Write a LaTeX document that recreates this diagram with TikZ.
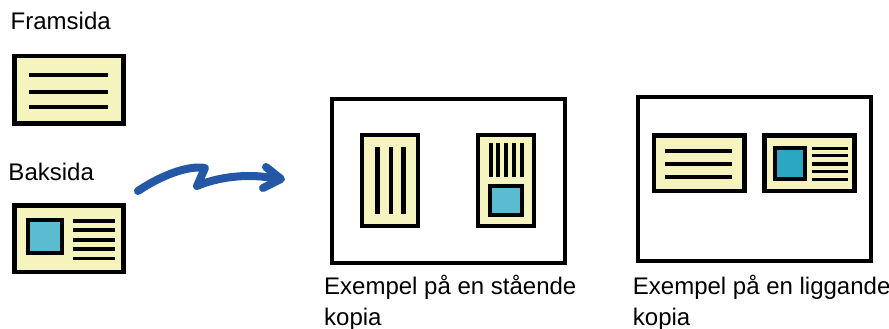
\documentclass[tikz,border=0pt]{standalone}
\usepackage{fontspec}
\setmainfont{Liberation Sans}
\definecolor{cardfill}{HTML}{F5F4BE}
\definecolor{photoA}{HTML}{5BBBD0}
\definecolor{photoB}{HTML}{2AA6C2}
\definecolor{arrowblue}{HTML}{2457A6}
\tikzset{
  frame/.style={draw=black,line width=4.3pt,fill=white},
  card/.style={draw=black,line width=4.3pt,fill=cardfill},
  txtline/.style={draw=black,line width=4pt},
  thinline/.style={draw=black,line width=3.5pt},
  photo/.style={draw=black,line width=4pt},
  lbl/.style={anchor=base west,inner sep=0pt,font=\fontsize{24}{30.7}\selectfont},
  squiggle/.style={draw=arrowblue,line width=8pt,line cap=round,line join=round}
}
\begin{document}
\begin{tikzpicture}[x=1pt,y=-1pt]
\useasboundingbox (0,0) rectangle (889,329);
% labels
\node[lbl] (front) at (10.5,30) {Framsida};
\node[lbl] (back) at (8.3,180.7) {Baksida};
\node[lbl] (portA) at (324,294.3) {Exempel på en stående};
\node[lbl] (portB) at (324,325) {kopia};
\node[lbl] (landA) at (632.7,294.3) {Exempel på en liggande};
\node[lbl] (landB) at (632.7,325) {kopia};
% front card
\draw[card] (14.5,56.2) rectangle (123.5,123.5);
\foreach \y in {75,91.7,107.3} \draw[txtline] (29,\y) -- (108,\y);
% back card
\draw[card] (14.5,205.5) rectangle (123.5,272.1);
\draw[photo,fill=photoA] (28,220.3) rectangle (62.3,253);
\foreach \y in {221,230,240,249,258.3} \draw[thinline] (72.7,\y) -- (115,\y);
% squiggle arrow
\draw[squiggle] (138,191) .. controls (160,176) and (188,165) .. (205,168) -- (197,186) .. controls (215,178) and (245,173) .. (272,178);
\draw[squiggle] (266,167) -- (281,179) -- (263,188);
% portrait frame
\draw[frame] (332,98.7) rectangle (564.7,263);
\draw[card] (362.2,134.9) rectangle (417.8,226.1);
\foreach \x in {377.3,391,403.3} \draw[line width=4.5pt] (\x,147.3) -- (\x,214);
\draw[card] (478.2,134.9) rectangle (533.8,226.1);
\foreach \x in {491,498.3,506,514,522.3} \draw[line width=3.8pt] (\x,142.7) -- (\x,177.3);
\draw[photo,fill=photoA] (490.3,186.3) rectangle (522,214.7);
% landscape frame
\draw[frame] (638,96.7) rectangle (870.7,260.7);
\draw[card] (653.9,135.5) rectangle (744.5,191.1);
\foreach \y in {150.7,164,177.3} \draw[txtline] (665,\y) -- (732.3,\y);
\draw[card] (764.5,135.5) rectangle (854.5,191.1);
\draw[photo,fill=photoB] (775.3,148) rectangle (804.7,178.7);
\foreach \y in {148.7,155.7,164,171.7,179.3} \draw[thinline] (812.3,\y) -- (847.7,\y);
\end{tikzpicture}
\end{document}
